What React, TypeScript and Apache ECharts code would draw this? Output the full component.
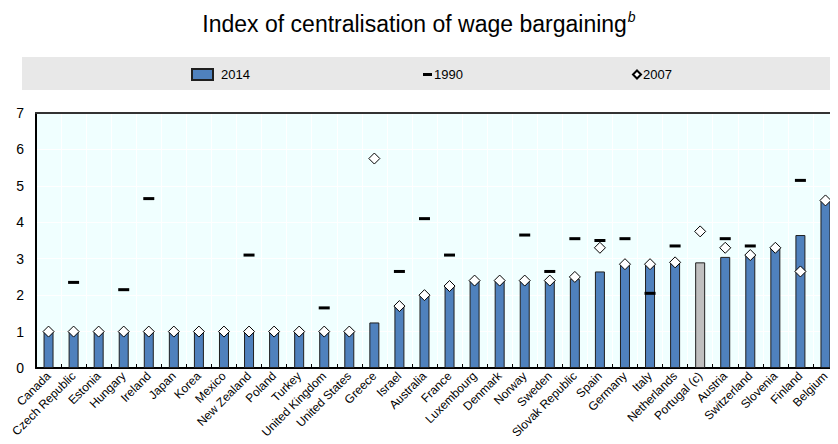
import React, { useEffect, useRef } from "react";
import * as echarts from "echarts";

const countries = [
  "Canada", "Czech Republic", "Estonia", "Hungary", "Ireland", "Japan", "Korea", "Mexico",
  "New Zealand", "Poland", "Turkey", "United Kingdom", "United States", "Greece", "Israel",
  "Australia", "France", "Luxembourg", "Denmark", "Norway", "Sweden", "Slovak Republic",
  "Spain", "Germany", "Italy", "Netherlands", "Portugal (c)", "Austria", "Switzerland",
  "Slovenia", "Finland", "Belgium",
];

const values2014 = [
  1, 1, 1, 1, 1, 1, 1, 1, 1, 1, 1, 1, 1, 1.25, 1.7, 2.0, 2.25, 2.4, 2.4, 2.4, 2.4, 2.45,
  2.65, 2.85, 2.85, 2.9, 2.9, 3.05, 3.1, 3.3, 3.65, 4.6,
];

const values1990: (number | null)[] = [
  null, 2.35, null, 2.15, 4.65, null, null, null, 3.1, null, null, 1.65, null, null, 2.65,
  4.1, 3.1, null, null, 3.65, 2.65, 3.55, 3.5, 3.55, 2.05, 3.35, null, 3.55, 3.35, null,
  5.15, null,
];

const values2007: (number | null)[] = [
  1, 1, 1, 1, 1, 1, 1, 1, 1, 1, 1, 1, 1, 5.75, 1.7, 2.0, 2.25, 2.4, 2.4, 2.4, 2.4, 2.5,
  3.3, 2.85, 2.85, 2.9, 3.75, 3.3, 3.1, 3.3, 2.65, 4.6,
];

const yTicks = [0, 1, 2, 3, 4, 5, 6, 7];

const greyCountry = "Portugal (c)";

export default function App() {
  const ref = useRef<HTMLDivElement>(null);

  useEffect(() => {
    if (!ref.current) return;
    const chart = echarts.init(ref.current, null, { renderer: "svg" });
    const sans = "'Liberation Sans', Arial, sans-serif";

    chart.setOption({
      animation: false,
      backgroundColor: "#ffffff",
      title: {
        text: "{a|Index of centralisation of wage bargaining}{b|b}",
        left: "center",
        top: 5,
        textStyle: {
          rich: {
            a: { fontFamily: sans, fontSize: 23, fontWeight: "normal", color: "#000", lineHeight: 28 },
            b: {
              fontFamily: sans,
              fontSize: 14,
              fontStyle: "italic",
              fontWeight: "normal",
              color: "#000",
              verticalAlign: "top",
              lineHeight: 14,
              padding: [0, 0, 14, 1],
            },
          },
        },
      },
      graphic: [
        {
          type: "rect",
          z: 0,
          shape: { x: 22, y: 57, width: 816, height: 33 },
          style: { fill: "#E8E8E8" },
        },
      ],
      legend: [
        {
          data: ["2014"],
          left: 186,
          top: 63,
          itemWidth: 21,
          itemHeight: 11,
          icon: "rect",
          textStyle: { fontFamily: sans, fontSize: 13, color: "#000", padding: [0, 0, 0, 3] },
        },
        {
          data: ["1990"],
          left: 418,
          top: 63,
          itemWidth: 9,
          itemHeight: 3,
          icon: "rect",
          textStyle: { fontFamily: sans, fontSize: 13, color: "#000", padding: [0, 0, 0, -3] },
        },
        {
          data: ["2007"],
          left: 627,
          top: 63,
          itemWidth: 8,
          itemHeight: 8,
          icon: "diamond",
          textStyle: { fontFamily: sans, fontSize: 13, color: "#000", padding: [0, 0, 0, -3] },
        },
      ],
      grid: {
        left: 36,
        top: 113,
        width: 806,
        bottom: 76,
        show: true,
        backgroundColor: "#F0FFFF",
        borderWidth: 0,
      },
      xAxis: [
        {
          type: "category",
          data: countries,
          boundaryGap: true,
          axisLine: { show: true, lineStyle: { color: "#000", width: 2 } },
          axisTick: { show: true, inside: true, length: 4, lineStyle: { color: "#000", width: 1 } },
          splitLine: { show: true, lineStyle: { color: "#ffffff", width: 1 } },
          axisLabel: {
            rotate: 45,
            interval: 0,
            margin: 6,
            fontFamily: sans,
            fontSize: 12,
            color: "#000",
          },
        },
        {
          type: "category",
          data: countries,
          position: "top",
          axisLine: { show: true, lineStyle: { color: "#333", width: 2 } },
          axisTick: { show: false },
          axisLabel: { show: false },
          splitLine: { show: false },
        },
      ],
      yAxis: {
        type: "value",
        min: yTicks[0],
        max: yTicks[yTicks.length - 1],
        interval: 1,
        axisLine: { show: true, lineStyle: { color: "#000", width: 2 } },
        axisTick: { show: false },
        splitLine: { show: true, lineStyle: { color: "#ffffff", width: 1 } },
        axisLabel: { fontFamily: sans, fontSize: 14, color: "#000", margin: 12 },
      },
      series: [
        {
          name: "2014",
          type: "bar",
          xAxisIndex: 0,
          barWidth: 10,
          data: values2014.map((v, i) => ({
            value: v,
            itemStyle: {
              color: countries[i] === greyCountry ? "#BFBFBF" : "#4F81BD",
              borderColor: "#1f1f1f",
              borderWidth: 1,
            },
          })),
          itemStyle: { color: "#4F81BD", borderColor: "#1f1f1f", borderWidth: 1 },
          z: 2,
        },
        {
          name: "1990",
          type: "scatter",
          xAxisIndex: 0,
          symbol: "rect",
          symbolSize: [11, 3],
          data: values1990,
          itemStyle: { color: "#000", opacity: 1 },
          z: 3,
        },
        {
          name: "2007",
          type: "scatter",
          xAxisIndex: 0,
          symbol: "diamond",
          symbolSize: [11, 11],
          data: values2007,
          itemStyle: { color: "#ffffff", borderColor: "#000", borderWidth: 1, opacity: 1 },
          z: 4,
        },
      ],
    });

    return () => chart.dispose();
  }, []);

  return <div ref={ref} style={{ width: 838, height: 444, margin: -8 }} />;
}
